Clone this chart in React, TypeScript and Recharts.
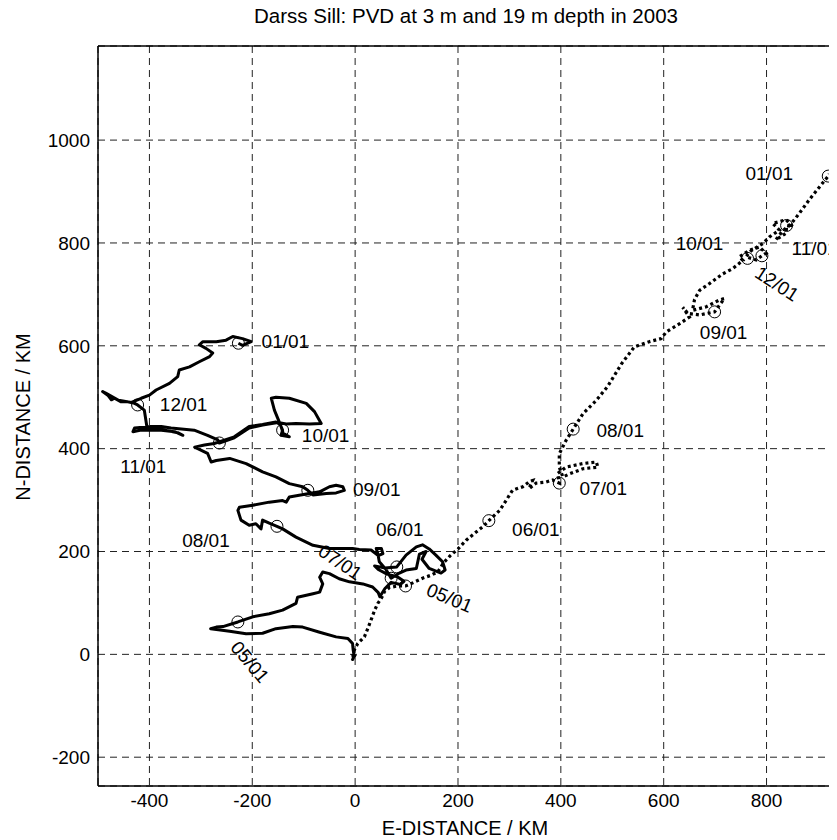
import React from "react";
import {
  ScatterChart,
  Scatter,
  XAxis,
  YAxis,
  CartesianGrid,
  ReferenceLine,
} from "recharts";

// axis ticks
const xTicks = [-400, -200, 0, 200, 400, 600, 800];
const yTicks = [-200, 0, 200, 400, 600, 800, 1000];

// solid track (km east, km north)
const trackSolid: [number, number][] = [
  [0, 0], [-5, -10], [-2, -3], [-4, 10], [-5, 21], [-14, 31], [-37, 34], [-69, 43],
  [-102, 53], [-121, 54], [-154, 50], [-180, 41], [-212, 40], [-244, 45], [-266, 48],
  [-281, 50], [-270, 53], [-257, 54], [-228, 63], [-199, 73], [-167, 79], [-141, 86],
  [-115, 99], [-112, 111], [-82, 118], [-69, 121], [-63, 137], [-69, 150], [-63, 160],
  [-50, 157], [-31, 147], [-11, 141], [15, 137], [34, 131], [45, 120], [48, 112],
  [58, 128], [70, 140], [88, 136], [95, 142], [82, 151], [62, 156], [45, 165], [38, 172],
  [58, 168], [81, 170], [99, 193], [119, 209], [131, 213], [144, 205], [157, 193],
  [170, 180], [175, 164], [167, 158], [144, 167], [130, 185], [138, 200], [125, 195],
  [119, 167], [99, 164], [86, 158], [70, 148], [60, 165], [47, 180], [44, 196], [41, 206],
  [51, 206], [54, 196], [45, 192], [31, 203], [8, 204], [-5, 206], [-50, 206], [-82, 212],
  [-115, 228], [-141, 244], [-152, 249], [-167, 255], [-180, 261], [-183, 244], [-193, 254],
  [-206, 251], [-222, 261], [-228, 280], [-225, 286], [-199, 290], [-167, 296], [-141, 299],
  [-134, 296], [-128, 306], [-95, 312], [-69, 316], [-50, 326], [-37, 329], [-24, 326],
  [-21, 319], [-37, 314], [-56, 313], [-82, 310], [-92, 319], [-102, 326], [-128, 332],
  [-154, 345], [-180, 355], [-212, 371], [-244, 381], [-270, 377], [-280, 374], [-287, 391],
  [-306, 400], [-312, 403], [-293, 407], [-274, 410], [-250, 418], [-235, 423], [-206, 443],
  [-180, 447], [-154, 452], [-146, 447], [-141, 436], [-144, 426], [-128, 423], [-140, 430],
  [-144, 443], [-150, 458], [-157, 475], [-163, 498], [-154, 500], [-128, 498], [-95, 488],
  [-79, 472], [-66, 449], [-89, 448], [-115, 449], [-134, 448], [-150, 451], [-180, 446],
  [-206, 440], [-235, 421], [-264, 411], [-267, 417], [-287, 426], [-313, 436], [-358, 440],
  [-377, 443], [-397, 443], [-429, 440], [-432, 433], [-416, 436], [-377, 436], [-351, 433],
  [-335, 426], [-345, 431], [-380, 438], [-405, 443], [-410, 475], [-423, 485], [-429, 488],
  [-442, 491], [-455, 491], [-468, 498], [-474, 495], [-481, 504], [-491, 511], [-485, 508],
  [-460, 494], [-435, 490], [-416, 498], [-400, 504], [-387, 514], [-361, 527], [-345, 540],
  [-342, 553], [-322, 559], [-303, 569], [-283, 579], [-277, 586], [-290, 595], [-303, 602],
  [-296, 608], [-270, 608], [-251, 611], [-238, 618], [-219, 614], [-202, 608], [-219, 601],
  [-227, 605],
];

// dotted track
const trackDotted: [number, number][] = [
  [0, 0], [-3, -8], [-5, 2], [5, 21], [18, 34], [25, 51], [31, 67], [38, 86], [44, 99],
  [51, 109], [57, 122], [67, 130], [83, 133], [98, 133], [112, 139], [131, 148], [148, 154],
  [161, 161], [172, 178], [185, 192], [200, 205], [216, 222], [233, 236], [248, 248],
  [260, 260], [281, 280], [294, 300], [306, 319], [326, 326], [339, 336], [345, 338],
  [338, 322], [352, 333], [371, 335], [384, 339], [397, 333], [394, 352], [410, 364],
  [443, 371], [469, 374], [472, 364], [443, 361], [417, 351], [404, 345], [397, 364],
  [397, 390], [410, 416], [424, 438], [443, 468], [469, 494], [491, 521], [518, 565],
  [543, 598], [572, 608], [595, 614], [605, 627], [631, 643], [650, 656], [637, 675],
  [647, 663], [670, 660], [699, 666], [718, 692], [708, 689], [683, 676], [656, 669],
  [660, 690], [670, 708], [689, 721], [715, 740], [734, 750], [754, 766], [747, 773],
  [767, 786], [786, 792], [799, 780], [791, 775], [780, 767], [760, 773], [770, 785],
  [793, 799], [806, 812], [825, 825], [812, 838], [838, 845], [851, 832], [839, 834],
  [838, 819], [818, 806], [830, 822], [850, 840], [864, 858], [883, 884], [903, 909],
  [920, 930], [922, 934],
];

// monthly markers
const months = ["05/01", "06/01", "07/01", "08/01", "09/01", "10/01", "11/01", "12/01", "01/01"];
const solidMarks: [number, number][] = [
  [-228, 63], [81, 170], [70, 148], [-152, 249], [-92, 319], [-141, 436], [-264, 411],
  [-423, 485], [-227, 605],
];
const dottedMarks: [number, number][] = [
  [98, 133], [260, 260], [397, 333], [424, 438], [699, 666], [763, 770], [839, 834],
  [791, 775], [920, 930],
];

// label placement in pixels: dx, dy, rotation
const solidLabelPlace = [
  [12, 40, 50], [3, -37, 0], [-51, -16, 34], [-71, 14, 0], [69, -1, 0], [43, 5, 0],
  [-76, 24, 0], [46, 0, 0], [47, -2, 0],
];
const dottedLabelPlace = [
  [44, 12, 23], [47, 9, 0], [44, 5, 0], [47, 1, 0], [9, 21, 0], [-48, -15, 0],
  [28, 23, 0], [15, 28, 33], [-59, -3, 0],
];

const FONT = "'Liberation Sans', Arial, Helvetica, sans-serif";

const toPoints = (arr: [number, number][]) => arr.map(([x, y]) => ({ x, y }));
const toMarks = (arr: [number, number][], place: number[][]) =>
  arr.map(([x, y], i) => ({ x, y, label: months[i], dx: place[i][0], dy: place[i][1], rot: place[i][2] }));

const NoDot = () => <g />;

const MarkShape = (props: any) => {
  const { cx, cy, payload } = props;
  if (cx == null || cy == null) return <g />;
  const lx = cx + payload.dx;
  const ly = cy + payload.dy;
  return (
    <g>
      <circle cx={cx} cy={cy} r={6} fill="none" stroke="#000" strokeWidth={1} />
      <text
        x={lx}
        y={ly}
        textAnchor="middle"
        dominantBaseline="central"
        fontSize={19}
        fontFamily={FONT}
        fill="#000"
        transform={payload.rot ? `rotate(${payload.rot}, ${lx}, ${ly})` : undefined}
      >
        {payload.label}
      </text>
    </g>
  );
};

export default function App() {
  const tickStyle = { fontSize: 19, fill: "#000", fontFamily: FONT };
  return (
    <div style={{ position: "relative", width: 829, height: 832, fontFamily: FONT }}>
      <div
        style={{
          position: "absolute", left: 458, top: 8, transform: "translate(-50%, -50%)",
          fontSize: 20.5, lineHeight: 1, whiteSpace: "nowrap", color: "#000",
        }}
      >
        Darss Sill: PVD at 3 m and 19 m depth in 2003
      </div>
      <div
        style={{
          position: "absolute", left: 457, top: 820, transform: "translate(-50%, -50%)",
          fontSize: 20, lineHeight: 1, whiteSpace: "nowrap", color: "#000",
        }}
      >
        E-DISTANCE / KM
      </div>
      <div
        style={{
          position: "absolute", left: 15, top: 409, transform: "translate(-50%, -50%) rotate(-90deg)",
          fontSize: 20, lineHeight: 1, whiteSpace: "nowrap", color: "#000",
        }}
      >
        N-DISTANCE / KM
      </div>
      <ScatterChart width={829} height={830} margin={{ top: 38, right: 0, bottom: 22, left: 30 }}>
        <CartesianGrid stroke="#222" strokeDasharray="7 5" />
        <XAxis
          type="number"
          dataKey="x"
          domain={[-500, 937]}
          ticks={xTicks}
          allowDataOverflow
          tickLine={false}
          axisLine={{ stroke: "#000", strokeWidth: 1.5 }}
          tick={tickStyle}
          height={30}
        />
        <YAxis
          type="number"
          dataKey="y"
          domain={[-256, 1183]}
          ticks={yTicks}
          allowDataOverflow
          tickLine={false}
          axisLine={{ stroke: "#000", strokeWidth: 1.5 }}
          tick={tickStyle}
          width={60}
        />
        <ReferenceLine y={1183} stroke="#000" strokeWidth={1.5} />
        <Scatter
          data={toPoints(trackSolid)}
          line={{ stroke: "#000", strokeWidth: 3, strokeLinejoin: "round" }}
          shape={NoDot}
          isAnimationActive={false}
        />
        <Scatter
          data={toPoints(trackDotted)}
          line={{ stroke: "#000", strokeWidth: 3.2, strokeDasharray: "3 3" }}
          shape={NoDot}
          isAnimationActive={false}
        />
        <Scatter data={toMarks(solidMarks, solidLabelPlace)} shape={MarkShape} isAnimationActive={false} />
        <Scatter data={toMarks(dottedMarks, dottedLabelPlace)} shape={MarkShape} isAnimationActive={false} />
      </ScatterChart>
    </div>
  );
}
